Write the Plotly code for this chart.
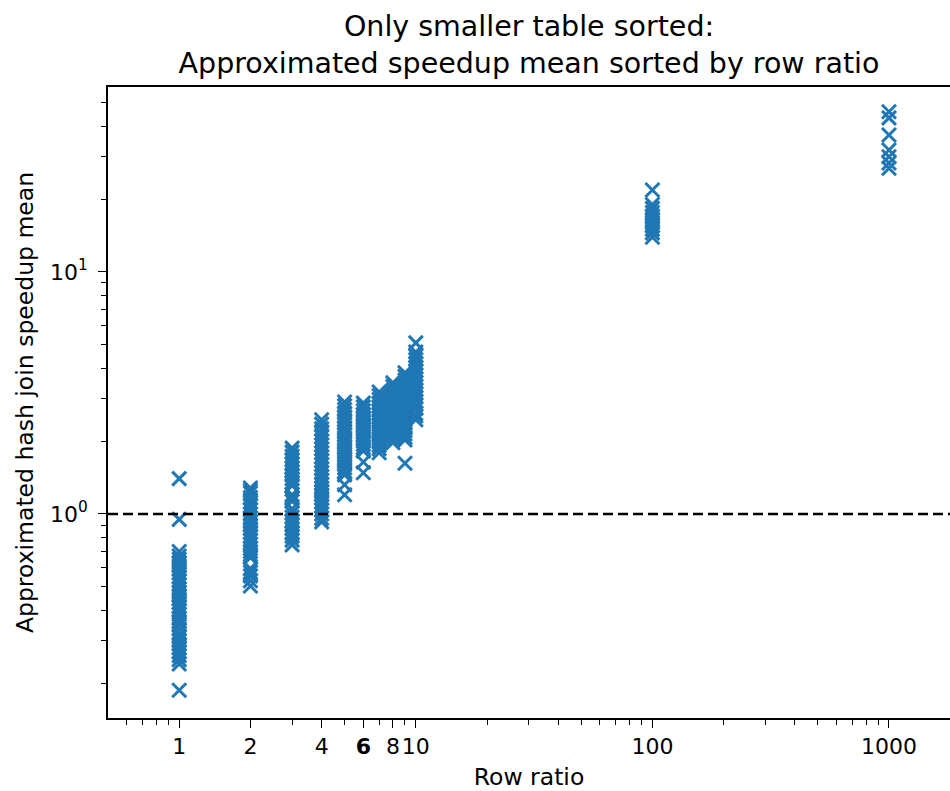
import math
import plotly.graph_objects as go

# ---- data ----
row_ratios = [1, 2, 3, 4, 5, 6, 7, 8, 9, 10, 100, 1000]

speedup_r1 = [1.40, 0.95, 0.70, 0.67, 0.65, 0.63, 0.61, 0.59, 0.57, 0.55, 0.53, 0.51,
              0.49, 0.475, 0.46, 0.445, 0.43, 0.415, 0.40, 0.385, 0.37, 0.36, 0.35,
              0.335, 0.32, 0.31, 0.30, 0.29, 0.28, 0.27, 0.26, 0.25, 0.24, 0.187]
speedup_r2 = [1.28, 1.25, 1.22, 1.17, 1.12, 1.08, 1.04, 1.00, 0.96, 0.93, 0.90, 0.87,
              0.84, 0.81, 0.78, 0.75, 0.72, 0.70, 0.68, 0.66, 0.595, 0.575, 0.555,
              0.53, 0.504]
speedup_r3 = [1.87, 1.80, 1.73, 1.67, 1.61, 1.55, 1.50, 1.45, 1.40, 1.35, 1.31, 1.20,
              1.16, 1.13, 1.05, 1.01, 0.97, 0.93, 0.90, 0.87, 0.84, 0.81, 0.78, 0.745]
speedup_r4 = [2.45, 2.35, 2.25, 2.16, 2.08, 2.00, 1.93, 1.86, 1.79, 1.72, 1.66, 1.60,
              1.54, 1.48, 1.43, 1.38, 1.33, 1.28, 1.24, 1.20, 1.16, 1.12, 1.08, 1.04,
              1.00, 0.96, 0.927]
speedup_r5 = [2.90, 2.80, 2.70, 2.61, 2.52, 2.44, 2.37, 2.27, 2.20, 2.13, 2.06, 2.00,
              1.94, 1.88, 1.82, 1.76, 1.70, 1.65, 1.60, 1.55, 1.50, 1.45, 1.32, 1.20]
speedup_r6 = [2.87, 2.77, 2.67, 2.58, 2.50, 2.42, 2.34, 2.27, 2.20, 2.13, 2.06, 2.00,
              1.94, 1.88, 1.82, 1.64, 1.48]
speedup_r7 = [3.19, 3.08, 2.97, 2.87, 2.77, 2.68, 2.59, 2.50, 2.42, 2.34, 2.26, 2.19,
              2.12, 2.05, 1.98, 1.92, 1.86, 1.79]
speedup_r8 = [3.48, 3.36, 3.24, 3.13, 3.02, 2.92, 2.82, 2.73, 2.64, 2.55, 2.47, 2.39,
              2.31, 2.24, 2.17, 2.10, 2.03, 1.97]
speedup_r9 = [3.83, 3.70, 3.57, 3.45, 3.33, 3.22, 3.11, 3.00, 2.90, 2.80, 2.71, 2.62,
              2.53, 2.45, 2.37, 2.29, 2.21, 2.14, 2.07, 2.02, 1.62]
speedup_r10 = [5.09, 4.67, 4.50, 4.34, 4.19, 4.04, 3.90, 3.76, 3.63, 3.50, 3.38, 3.26,
               3.15, 3.04, 2.93, 2.83, 2.73, 2.60, 2.54, 2.45]
speedup_r100 = [21.8, 19.0, 18.3, 17.6, 17.0, 16.5, 16.0, 15.5, 15.0, 14.5, 13.9]
speedup_r1000 = [45.9, 43.3, 36.8, 31.9, 29.9, 28.2, 26.8]

speedups = [speedup_r1, speedup_r2, speedup_r3, speedup_r4, speedup_r5, speedup_r6,
            speedup_r7, speedup_r8, speedup_r9, speedup_r10, speedup_r100, speedup_r1000]

x_major_vals = [1, 2, 4, 6, 8, 10, 100, 1000]
x_major_text = ["1", "2", "4", "<b>6</b>", "8", "10", "100", "1000"]
x_minor_vals = [0.6, 0.7, 0.8, 0.9, 3, 5, 7, 9, 20, 30, 40, 50, 60, 70, 80, 90,
                200, 300, 400, 500, 600, 700, 800, 900]
y_major_vals = [1, 10]
y_major_text = ["10<sup>0</sup>", "10<sup>1</sup>"]
y_minor_vals = [0.2, 0.3, 0.4, 0.5, 0.6, 0.7, 0.8, 0.9, 2, 3, 4, 5, 6, 7, 8, 9,
                20, 30, 40, 50]

title_text = "Only smaller table sorted:<br>Approximated speedup mean sorted by row ratio"
x_title = "Row ratio"
y_title = "Approximated hash join speedup mean"

# ---- build ----
xs, ys = [], []
for r, vals in zip(row_ratios, speedups):
    xs += [r] * len(vals)
    ys += vals

BLUE = "#1f77b4"
FONT = "DejaVu Sans"

fig = go.Figure()
fig.add_trace(go.Scatter(
    x=xs, y=ys, mode="markers",
    marker=dict(symbol="x-thin", size=14, color=BLUE,
                line=dict(width=3, color=BLUE)),
    showlegend=False, hoverinfo="x+y",
))

fig.add_hline(y=1, line=dict(color="black", width=2.5, dash="10px,5px"))

axis_common = dict(
    showline=True, linecolor="black", linewidth=1.6, automargin=False,
    showgrid=False, zeroline=False, ticks="outside", ticklen=8, tickwidth=1.4,
    tickcolor="black", tickfont=dict(family=FONT, size=22, color="black"),
)

fig.update_xaxes(
    type="log", range=[math.log10(0.5), math.log10(1811)], mirror=True,
    tickmode="array", tickvals=x_major_vals, ticktext=x_major_text, tickangle=0,
    minor=dict(tickmode="array", tickvals=x_minor_vals, ticklen=5, tickwidth=1.2,
               tickcolor="black", ticks="outside"),
    title=dict(text=x_title, font=dict(family=FONT, size=23.5, color="black"), standoff=10),
    **axis_common,
)
fig.update_yaxes(
    type="log", range=[-0.843, 1.764], mirror=False,
    tickmode="array", tickvals=y_major_vals, ticktext=y_major_text,
    ticklabelstandoff=6,
    minor=dict(tickmode="array", tickvals=y_minor_vals, ticklen=5, tickwidth=1.2,
               tickcolor="black", ticks="outside"),
    title=dict(text=y_title, font=dict(family=FONT, size=23.5, color="black"), standoff=10),
    **axis_common,
)

fig.update_layout(
    width=950, height=791,
    margin=dict(l=108, r=0, t=87, b=73, pad=0),
    plot_bgcolor="white", paper_bgcolor="white",
    font=dict(family=FONT, color="black"),
    title=dict(text=title_text, x=0.5, xref="paper", xanchor="center",
               y=1 - 36 / 791, yref="container", yanchor="middle",
               font=dict(family=FONT, size=28.5, color="black")),
)

fig.write_html("out.html")
